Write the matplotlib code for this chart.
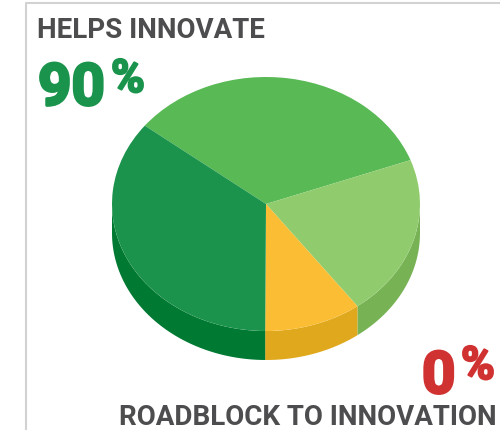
import numpy as np
import matplotlib
matplotlib.use("Agg")
import matplotlib.pyplot as plt
import matplotlib.patheffects as pe
from matplotlib.lines import Line2D

# slices, clockwise from the upper left boundary
labels = ["mid", "light", "yellow", "dark"]
values = [33.8, 20.5, 10.2, 35.5]
top_colors = ["#58b955", "#90cc6d", "#fabd33", "#1b934c"]
side_colors = ["#4aa347", "#77b355", "#e0a81c", "#007a33"]

title_top = "HELPS INNOVATE"
title_bottom = "ROADBLOCK TO INNOVATION"
pct_top = 90
pct_bottom = 0

W, H = 500, 430
cx, cy, rx, ry = 266, 204, 154, 127
depth = 29 / ry
start = 141.9

plt.rcParams['font.family'] = ['Roboto', 'DejaVu Sans']

fig = plt.figure(figsize=(W / 100, H / 100), dpi=100)
ax = fig.add_axes([0, 0, 1, 1])

# side wall first, only the lower half of the disc shows
edges = start - np.cumsum([0] + values) * 3.6
for i in range(len(values)):
    a1, a0 = edges[i], edges[i + 1]
    a = np.arange(np.floor(a0), np.ceil(a1) + 1)
    a = np.deg2rad(np.clip(a, a0, a1))
    a = a[(np.sin(a) <= 0)]
    if len(a) < 2:
        continue
    x = np.cos(a)
    y = np.sin(a)
    ax.fill(np.r_[x, x[::-1]], np.r_[y, y[::-1] - depth], color=side_colors[i], lw=0)

ax.pie(values, colors=top_colors, startangle=start, counterclock=False,
       wedgeprops=dict(linewidth=0), radius=1)

ax.set_aspect('auto')
ax.set_xlim(-cx / rx, (W - cx) / rx)
ax.set_ylim((cy - H) / ry, cy / ry)

# frame lines of the panel
fig.add_artist(Line2D([25.5 / W, 25.5 / W, 1], [0, 1 - 2.5 / H, 1 - 2.5 / H], color="#d2d2d2", lw=1.5))


def px_text(x, y, s, heavy=0, **kw):
    t = fig.text(x / W, 1 - y / H, s, va='baseline', **kw)
    if heavy:
        t.set_path_effects([pe.withStroke(linewidth=heavy, foreground=kw['color'])])
    return t


grey = "#4d4d4f"
px_text(37, 38, title_top, color=grey, fontsize=20, fontweight='bold')
px_text(497, 425, title_bottom, color=grey, fontsize=20, fontweight='bold', ha='right')

green = "#1a934c"
red = "#d03232"
px_text(38, 105, str(pct_top), heavy=2, color=green, fontsize=42, fontweight='bold')
px_text(111, 92, "%", heavy=1.5, color=green, fontsize=33, fontweight='bold')
px_text(422, 393, str(pct_bottom), heavy=2, color=red, fontsize=42, fontweight='bold')
px_text(461, 379, "%", heavy=1.5, color=red, fontsize=33, fontweight='bold')

fig.savefig("out.png", dpi=100)
